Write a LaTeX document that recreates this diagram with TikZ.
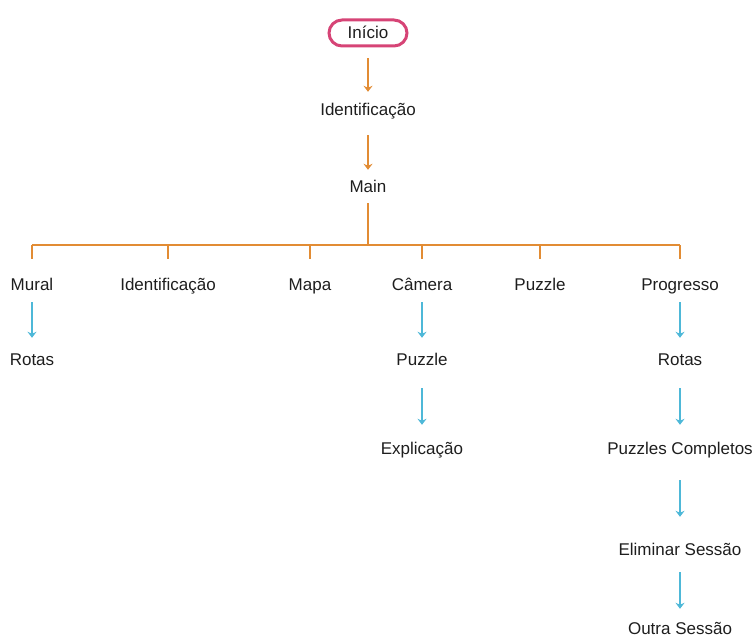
\documentclass[tikz,border=0pt]{standalone}
\usepackage{fontspec}
\setmainfont{Liberation Sans}
\usepackage{tikz}
\usetikzlibrary{arrows.meta,positioning,calc}
\usepackage{xcolor}
\definecolor{fluxorange}{RGB}{226,140,52}
\definecolor{fluxblue}{RGB}{78,184,216}
\definecolor{fluxpink}{RGB}{214,68,118}
\definecolor{fluxtext}{RGB}{30,30,30}

\begin{document}
\begin{tikzpicture}[x=1pt, y=-1pt,
    lbl/.style={inner sep=2pt, text height=13pt, text depth=1pt, text=fluxtext,
                font=\fontsize{17}{20}\selectfont},
    orangearrow/.style={draw=fluxorange, line width=2pt, -{Stealth[length=6pt,width=9pt]}},
    bluearrow/.style={draw=fluxblue, line width=2pt, -{Stealth[length=6pt,width=9pt]}},
    busline/.style={draw=fluxorange, line width=1.5pt}]
  \useasboundingbox (0,0) rectangle (754,639);

  \node[lbl, draw=fluxpink, line width=3pt, rounded corners=13pt,
        minimum width=78pt, minimum height=26pt] (inicio) at (368,33) {Início};
  \node[lbl] (ident) at (368,110) {Identificação};
  \node[lbl] (main) at (368,186) {Main};

  \coordinate (bus) at (368,245);

  \node[lbl] (mural) at (32,284) {Mural};
  \node[lbl] (identb) at (168,284) {Identificação};
  \node[lbl] (mapa) at (310,284) {Mapa};
  \node[lbl] (camera) at (422,284) {Câmera};
  \node[lbl] (puzzle) at (540,284) {Puzzle};
  \node[lbl] (progresso) at (680,284) {Progresso};

  \node[lbl] (rotasa) at (32,359) {Rotas};
  \node[lbl] (puzzleb) at (422,359) {Puzzle};
  \node[lbl] (rotasb) at (680,359) {Rotas};
  \node[lbl] (explicacao) at (422,448) {Explicação};
  \node[lbl] (completos) at (680,448) {Puzzles Completos};
  \node[lbl] (eliminar) at (680,549) {Eliminar Sessão};
  \node[lbl] (outra) at (680,628) {Outra Sessão};

  \draw[orangearrow, shorten <=11pt, shorten >=9pt] (inicio) -- (ident);
  \draw[orangearrow, shorten <=16pt, shorten >=7pt] (ident) -- (main);

  \draw[busline, shorten <=8pt] (main) -- (main |- bus);
  \draw[busline] (mural |- bus) -- (progresso |- bus);
  \foreach \n in {mural,identb,mapa,camera,puzzle,progresso}
    \draw[busline, shorten >=16pt] (\n |- bus) -- (\n);

  \draw[bluearrow, shorten <=9pt, shorten >=12pt] (mural) -- (rotasa);
  \draw[bluearrow, shorten <=9pt, shorten >=12pt] (camera) -- (puzzleb);
  \draw[bluearrow, shorten <=9pt, shorten >=12pt] (progresso) -- (rotasb);
  \draw[bluearrow, shorten <=20pt, shorten >=14pt] (puzzleb) -- (explicacao);
  \draw[bluearrow, shorten <=20pt, shorten >=14pt] (rotasb) -- (completos);
  \draw[bluearrow, shorten <=23pt, shorten >=23pt] (completos) -- (eliminar);
  \draw[bluearrow, shorten <=14pt, shorten >=10pt] (eliminar) -- (outra);
\end{tikzpicture}
\end{document}
